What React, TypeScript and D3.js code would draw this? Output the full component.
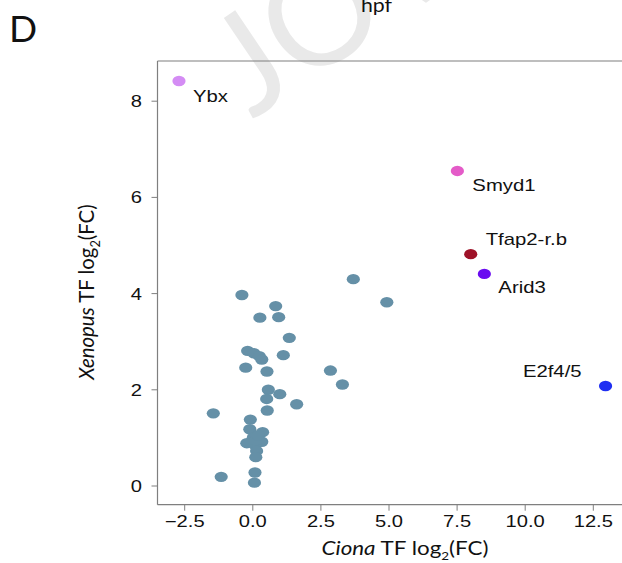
import React from "react";
import * as d3 from "d3";

const bgX: number[] = [-0.40, 0.84, 0.26, 0.95, 1.34, -0.19, 0.04, 0.24, 0.33, 1.12, -0.26, 0.52, 0.57, 0.99, 0.51, 1.61, 0.53, -1.45, -0.09, -0.11, 0.36, 0.02, -0.22, 0.33, 0.08, 0.14, 0.11, 0.08, 0.06, -1.16, 3.69, 4.92, 2.85, 3.29, 0.10, 0.20];
const bgY: number[] = [3.97, 3.74, 3.50, 3.51, 3.08, 2.81, 2.76, 2.70, 2.63, 2.72, 2.46, 2.38, 2.00, 1.91, 1.81, 1.70, 1.57, 1.51, 1.38, 1.18, 1.12, 1.01, 0.89, 0.92, 0.85, 0.73, 0.60, 0.28, 0.07, 0.19, 4.30, 3.82, 2.40, 2.11, 0.95, 1.05];

const hlNames: string[] = ["Ybx", "Smyd1", "Tfap2-r.b", "Arid3", "E2f4/5"];
const hlX: number[] = [-2.71, 7.51, 8.0, 8.5, 12.95];
const hlY: number[] = [8.42, 6.55, 4.82, 4.41, 2.08];
const hlColors: string[] = ["#d48cf4", "#e45bc8", "#9e1228", "#6a0cf0", "#1f2ff2"];
const hlLabelOffset: [number, number, string][] = [
  [14, 21, "start"],
  [15, 20, "start"],
  [15, -9, "start"],
  [14, 19, "start"],
  [-24, -9, "end"],
];

const xTicks: number[] = [-2.5, 0, 2.5, 5, 7.5, 10, 12.5];
const yTicks: number[] = [0, 2, 4, 6, 8];

const W = 622;
const H = 563;
const tickFont = "'Liberation Sans', Arial, sans-serif";
const titleFont = "Lato, 'Open Sans', sans-serif";

function T(props: {
  x: number;
  y: number;
  sx?: number;
  sy?: number;
  rot?: number;
  anchor?: string;
  size: number;
  family?: string;
  weight?: number;
  fill?: string;
  children: React.ReactNode;
}) {
  const { x, y, sx = 1, sy = 1, rot = 0, anchor = "start", size, family = tickFont, weight = 400, fill = "#111", children } = props;
  return (
    <text
      transform={`translate(${x},${y}) rotate(${rot}) scale(${sx},${sy})`}
      textAnchor={anchor as any}
      fontFamily={family}
      fontWeight={weight}
      fontSize={size}
      fill={fill}
    >
      {children}
    </text>
  );
}

export default function App() {
  const x = d3.scaleLinear().domain([0, 12.5]).range([252.8, 593.3]);
  const y = d3.scaleLinear().domain([0, 8]).range([486, 101.2]);
  const left = 157.5;
  const top = 61;
  const bottom = 504.7;
  const right = 640;
  const axisColor = "#7f7f7f";
  const teal = "#6590a7";
  const SX = 1.26;

  return (
    <div style={{ position: "absolute", left: 0, top: 0 }}>
      <svg width={W} height={H} style={{ display: "block", background: "#fff" }}>
        {/* watermark */}
        <text
          x={0}
          y={0}
          transform="translate(252,120) rotate(-34)"
          fontFamily={titleFont}
          fontSize={140}
          fill="#e9e9e9"
          fontWeight={400}
        >
          JOVE
        </text>

        <T x={9} y={42} size={37} family={titleFont} weight={400}>D</T>
        <T x={361} y={12} size={19} sx={1.12} family={titleFont} weight={400}>hpf</T>

        {/* frame */}
        <line x1={left} x2={right} y1={top} y2={top} stroke={axisColor} strokeWidth={1.2} />
        <line x1={left} x2={left} y1={top} y2={bottom} stroke={axisColor} strokeWidth={1.2} />
        <line x1={left} x2={right} y1={bottom} y2={bottom} stroke={axisColor} strokeWidth={1.2} />

        {/* y ticks */}
        {yTicks.map((t) => (
          <g key={"y" + t}>
            <line x1={left - 6} x2={left} y1={y(t)} y2={y(t)} stroke={axisColor} strokeWidth={1} />
            <T x={left - 15.5} y={y(t) + 6} anchor="end" size={16} sx={SX}>
              {d3.format("d")(t)}
            </T>
          </g>
        ))}

        {/* x ticks */}
        {xTicks.map((t) => (
          <g key={"x" + t}>
            <line x1={x(t)} x2={x(t)} y1={bottom} y2={bottom + 6} stroke={axisColor} strokeWidth={1} />
            <T x={x(t)} y={527} anchor="middle" size={16} sx={SX}>
              {t < 0 ? "\u2212" + d3.format(".1f")(-t) : d3.format(".1f")(t)}
            </T>
          </g>
        ))}

        {/* axis titles */}
        <T x={405} y={555} anchor="middle" size={20} sx={1.12} family={titleFont}>
          <tspan fontStyle="italic">Ciona</tspan>
          <tspan> TF log</tspan>
          <tspan fontSize={12} dy={5}>2</tspan>
          <tspan dy={-5}>(FC)</tspan>
        </T>
        <T x={94} y={292} rot={-90} sx={1.07} sy={1.15} anchor="middle" size={19} family={titleFont}>
          <tspan fontStyle="italic">Xenopus</tspan>
          <tspan> TF log</tspan>
          <tspan fontSize={12} dy={5}>2</tspan>
          <tspan dy={-5}>(FC)</tspan>
        </T>

        {/* background points */}
        {bgX.map((v, i) => (
          <ellipse key={"b" + i} cx={x(v)} cy={y(bgY[i])} rx={6.6} ry={5.2} fill={teal} />
        ))}

        {/* highlighted points */}
        {hlNames.map((n, i) => (
          <g key={n}>
            <ellipse cx={x(hlX[i])} cy={y(hlY[i])} rx={6.6} ry={5.2} fill={hlColors[i]} />
            <T
              x={x(hlX[i]) + hlLabelOffset[i][0]}
              y={y(hlY[i]) + hlLabelOffset[i][1]}
              anchor={hlLabelOffset[i][2]}
              size={16}
              sx={1.27}
            >
              {n}
            </T>
          </g>
        ))}
      </svg>
    </div>
  );
}
